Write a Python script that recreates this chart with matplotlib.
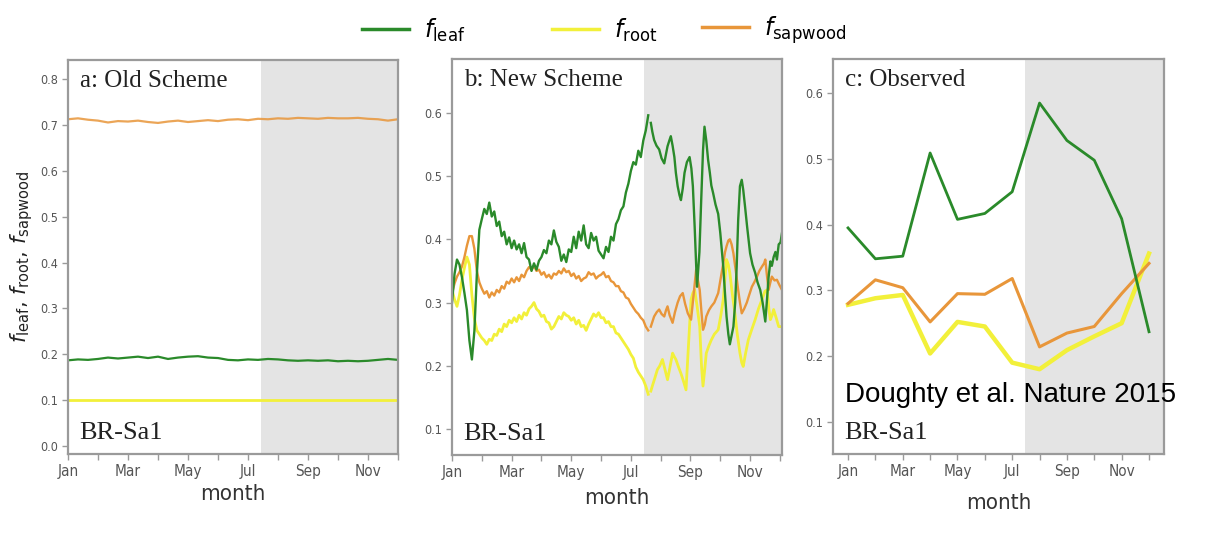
import numpy as np
import matplotlib
matplotlib.use("Agg")
import matplotlib.pyplot as plt
from matplotlib.lines import Line2D
from matplotlib.ticker import FixedLocator, FixedFormatter

# ---------------- data ----------------
MONTH_LABELS = ["Jan", "Mar", "May", "Jul", "Sep", "Nov"]
DRY_START = 6.45  # start of the dry season (mid July), in months

# a: old scheme (roughly constant allocation)
a_x = np.arange(0, 11.01, 1 / 3)
a_sapwood = [0.712, 0.714, 0.711, 0.709, 0.705, 0.708, 0.707, 0.709, 0.706, 0.704,
             0.707, 0.709, 0.706, 0.708, 0.710, 0.708, 0.711, 0.712, 0.710, 0.713,
             0.712, 0.714, 0.713, 0.715, 0.714, 0.713, 0.715, 0.714, 0.714, 0.715,
             0.713, 0.712, 0.709, 0.712]
a_leaf = [0.187, 0.189, 0.188, 0.190, 0.193, 0.191, 0.193, 0.195, 0.192, 0.195,
          0.190, 0.193, 0.195, 0.196, 0.193, 0.192, 0.188, 0.187, 0.189, 0.188,
          0.190, 0.189, 0.187, 0.186, 0.187, 0.186, 0.187, 0.185, 0.186, 0.185,
          0.186, 0.188, 0.190, 0.188]
a_root_x = np.arange(12)
a_root = [0.100, 0.100, 0.100, 0.100, 0.100, 0.100, 0.100, 0.100, 0.100, 0.100, 0.100, 0.100]

# b: new scheme, wet season sampled every 1/12 month ...
b_wet_x = np.arange(80) / 12
b_wet_leaf = [0.300, 0.345, 0.368, 0.360, 0.340, 0.315, 0.288, 0.240, 0.210, 0.255,
              0.345, 0.415, 0.432, 0.448, 0.440, 0.458, 0.436, 0.444, 0.421, 0.428,
              0.405, 0.412, 0.392, 0.403, 0.386, 0.398, 0.384, 0.392, 0.378, 0.394,
              0.372, 0.368, 0.350, 0.362, 0.352, 0.366, 0.372, 0.383, 0.378, 0.398,
              0.392, 0.414, 0.396, 0.388, 0.366, 0.376, 0.364, 0.384, 0.380, 0.404,
              0.386, 0.412, 0.398, 0.422, 0.392, 0.386, 0.410, 0.398, 0.404, 0.382,
              0.376, 0.370, 0.388, 0.380, 0.404, 0.398, 0.424, 0.432, 0.446, 0.452,
              0.474, 0.488, 0.508, 0.522, 0.518, 0.540, 0.530, 0.556, 0.572, 0.596]
b_wet_sapwood = [0.315, 0.330, 0.341, 0.348, 0.357, 0.372, 0.390, 0.405, 0.405, 0.385,
                 0.350, 0.332, 0.322, 0.314, 0.318, 0.308, 0.316, 0.311, 0.320, 0.316,
                 0.326, 0.322, 0.333, 0.330, 0.338, 0.332, 0.340, 0.334, 0.344, 0.340,
                 0.350, 0.356, 0.352, 0.358, 0.350, 0.352, 0.344, 0.348, 0.340, 0.344,
                 0.338, 0.346, 0.344, 0.350, 0.346, 0.354, 0.348, 0.350, 0.342, 0.346,
                 0.338, 0.342, 0.334, 0.338, 0.340, 0.348, 0.344, 0.346, 0.338, 0.342,
                 0.344, 0.348, 0.340, 0.342, 0.334, 0.332, 0.326, 0.326, 0.318, 0.316,
                 0.308, 0.306, 0.298, 0.292, 0.286, 0.282, 0.276, 0.272, 0.262, 0.256]
b_wet_root = [0.320, 0.305, 0.294, 0.312, 0.336, 0.355, 0.372, 0.360, 0.312, 0.275,
              0.256, 0.250, 0.244, 0.240, 0.234, 0.242, 0.240, 0.250, 0.248, 0.258,
              0.254, 0.266, 0.262, 0.272, 0.268, 0.276, 0.270, 0.280, 0.274, 0.284,
              0.280, 0.290, 0.294, 0.300, 0.290, 0.286, 0.278, 0.280, 0.270, 0.268,
              0.258, 0.262, 0.270, 0.278, 0.274, 0.284, 0.280, 0.278, 0.272, 0.276,
              0.266, 0.272, 0.262, 0.264, 0.256, 0.266, 0.274, 0.282, 0.278, 0.284,
              0.276, 0.276, 0.268, 0.270, 0.262, 0.262, 0.252, 0.250, 0.244, 0.238,
              0.232, 0.226, 0.218, 0.212, 0.198, 0.190, 0.184, 0.178, 0.168, 0.155]

# ... and the dry season at irregular points
b_dry_leaf_x = [6.67, 6.72, 6.78, 6.86, 6.95, 7.03, 7.12, 7.18, 7.23, 7.29, 7.34, 7.40,
                7.46, 7.51, 7.57, 7.63, 7.68, 7.74, 7.80, 7.88, 7.97, 8.03, 8.08, 8.14,
                8.19, 8.22, 8.30, 8.36, 8.42, 8.47, 8.53, 8.59, 8.65, 8.70, 8.76, 8.84,
                8.93, 9.00, 9.10, 9.15, 9.21, 9.27, 9.32, 9.38, 9.44, 9.50, 9.55, 9.60,
                9.66, 9.72, 9.77, 9.83, 9.90, 10.00, 10.08, 10.17, 10.25, 10.34, 10.42,
                10.51, 10.56, 10.62, 10.68, 10.73, 10.79, 10.85, 10.90, 10.96, 11.02, 11.07]
b_dry_leaf = [0.584, 0.570, 0.557, 0.548, 0.542, 0.528, 0.520, 0.535, 0.547, 0.556,
              0.563, 0.548, 0.530, 0.505, 0.484, 0.470, 0.462, 0.480, 0.505, 0.522,
              0.530, 0.512, 0.484, 0.420, 0.360, 0.325, 0.380, 0.462, 0.540, 0.578,
              0.556, 0.526, 0.505, 0.485, 0.473, 0.455, 0.440, 0.410, 0.357, 0.320,
              0.278, 0.250, 0.234, 0.248, 0.262, 0.300, 0.357, 0.430, 0.484, 0.494,
              0.478, 0.452, 0.420, 0.378, 0.360, 0.347, 0.332, 0.320, 0.300, 0.270,
              0.300, 0.340, 0.365, 0.358, 0.372, 0.380, 0.368, 0.392, 0.395, 0.410]

b_dry_sapwood_x = [6.67, 6.78, 6.87, 6.95, 7.03, 7.12, 7.18, 7.23, 7.30, 7.40, 7.48,
                   7.57, 7.65, 7.74, 7.82, 7.91, 8.02, 8.10, 8.19, 8.25, 8.31, 8.36,
                   8.42, 8.48, 8.53, 8.62, 8.70, 8.80, 8.93, 9.02, 9.10, 9.16, 9.21,
                   9.27, 9.32, 9.38, 9.44, 9.52, 9.60, 9.66, 9.72, 9.80, 9.89, 9.97,
                   10.06, 10.14, 10.23, 10.31, 10.40, 10.47, 10.51, 10.56, 10.62, 10.68,
                   10.73, 10.82, 10.90, 10.98, 11.07]
b_dry_sapwood = [0.262, 0.278, 0.285, 0.289, 0.282, 0.278, 0.288, 0.294, 0.280, 0.268,
                 0.285, 0.300, 0.310, 0.315, 0.298, 0.283, 0.273, 0.310, 0.352, 0.335,
                 0.320, 0.290, 0.257, 0.265, 0.278, 0.288, 0.294, 0.300, 0.315, 0.340,
                 0.362, 0.380, 0.389, 0.398, 0.400, 0.392, 0.378, 0.350, 0.320, 0.300,
                 0.283, 0.290, 0.300, 0.312, 0.325, 0.332, 0.341, 0.350, 0.357, 0.362,
                 0.368, 0.345, 0.320, 0.332, 0.341, 0.335, 0.336, 0.328, 0.320]

b_dry_root_x = [6.67, 6.72, 6.80, 6.89, 6.97, 7.06, 7.14, 7.23, 7.30, 7.40, 7.45, 7.51,
                7.60, 7.68, 7.77, 7.85, 7.93, 8.02, 8.08, 8.14, 8.22, 8.31, 8.37, 8.42,
                8.48, 8.53, 8.62, 8.70, 8.80, 8.93, 9.02, 9.10, 9.16, 9.21, 9.27, 9.32,
                9.40, 9.49, 9.57, 9.66, 9.72, 9.77, 9.85, 9.94, 10.06, 10.17, 10.28,
                10.40, 10.50, 10.57, 10.63, 10.68, 10.74, 10.79, 10.88, 10.96, 11.07]
b_dry_root = [0.160, 0.168, 0.180, 0.194, 0.200, 0.210, 0.195, 0.178, 0.195, 0.220,
              0.215, 0.210, 0.198, 0.188, 0.175, 0.162, 0.230, 0.305, 0.315, 0.320,
              0.295, 0.262, 0.200, 0.168, 0.195, 0.220, 0.232, 0.241, 0.250, 0.257,
              0.280, 0.305, 0.340, 0.368, 0.360, 0.347, 0.315, 0.283, 0.250, 0.220,
              0.205, 0.199, 0.220, 0.241, 0.258, 0.273, 0.290, 0.305, 0.318, 0.320,
              0.290, 0.273, 0.280, 0.289, 0.275, 0.262, 0.262]

# c: observed monthly values (Doughty et al. 2015)
c_x = np.arange(12)
c_leaf = [0.395, 0.348, 0.352, 0.509, 0.408, 0.417, 0.450, 0.585, 0.528, 0.498, 0.409, 0.237]
c_sapwood = [0.280, 0.316, 0.304, 0.252, 0.295, 0.294, 0.318, 0.214, 0.235, 0.245, 0.295, 0.341]
c_root = [0.278, 0.288, 0.293, 0.204, 0.252, 0.245, 0.190, 0.180, 0.209, 0.230, 0.250, 0.356]

# ---------------- style ----------------
GREEN = "#2a8a2a"
YELLOW = "#f2f03a"
ORANGE = "#e8963a"
SHADE = "#e4e4e4"
SPINE = "#9a9a9a"
TICK_TXT = "#555555"
SERIF = ["Liberation Serif", "DejaVu Serif"]

fig = plt.figure(figsize=(12.23, 5.33), dpi=100)

panels = [
    # rect, xlim, ylim, yticks, title
    ([0.0556, 0.1482, 0.2698, 0.7392], (0, 11), (-0.017, 0.841),
     [0.0, 0.1, 0.2, 0.3, 0.4, 0.5, 0.6, 0.7, 0.8], "a: Old Scheme"),
    ([0.3696, 0.1463, 0.2698, 0.7430], (0, 11.07), (0.059, 0.685),
     [0.1, 0.2, 0.3, 0.4, 0.5, 0.6], "b: New Scheme"),
    ([0.6811, 0.1482, 0.2707, 0.7411], (-0.55, 11.55), (0.051, 0.652),
     [0.1, 0.2, 0.3, 0.4, 0.5, 0.6], "c: Observed"),
]

axes = []
for rect, xlim, ylim, yticks, title in panels:
    ax = fig.add_axes(rect)
    ax.set_xlim(*xlim)
    ax.set_ylim(*ylim)
    ax.axvspan(DRY_START, xlim[1], color=SHADE, zorder=0, lw=0)

    ax.xaxis.set_major_locator(FixedLocator([0, 2, 4, 6, 8, 10]))
    ax.xaxis.set_major_formatter(FixedFormatter(MONTH_LABELS))
    ax.xaxis.set_minor_locator(FixedLocator([1, 3, 5, 7, 9, 11]))
    ax.set_yticks(yticks)
    ax.set_yticklabels([f"{t:.1f}" for t in yticks])
    ax.tick_params(axis="both", which="both", direction="out", length=4,
                   width=1, color=SPINE, labelcolor=TICK_TXT, pad=3)
    for lab in ax.get_xticklabels():
        lab.set_fontsize(11)
        lab.set_fontstretch("condensed")
    for lab in ax.get_yticklabels():
        lab.set_fontsize(9)
        lab.set_fontstretch("condensed")
    for s in ax.spines.values():
        s.set_color(SPINE)
        s.set_linewidth(1.6)

    ax.text(0.035, 0.975, title, transform=ax.transAxes, ha="left", va="top",
            family=SERIF, fontsize=18, color="#222222")
    ax.text(0.035, 0.025, "BR-Sa1", transform=ax.transAxes, ha="left", va="bottom",
            family=SERIF, fontsize=19, color="#222222")
    axes.append(ax)

ax_a, ax_b, ax_c = axes

# panel a
ax_a.plot(a_x, a_sapwood, color=ORANGE, lw=1.6, alpha=0.85)
ax_a.plot(a_x, a_leaf, color=GREEN, lw=1.6)
ax_a.plot(a_root_x, a_root, color=YELLOW, lw=2.0)
ax_a.set_ylabel(r"$f_{\mathrm{leaf}}$, $f_{\mathrm{root}}$, $f_{\mathrm{sapwood}}$",
                fontsize=15, color="#222222", labelpad=4)

# panel b
ax_b.plot(b_wet_x, b_wet_root, color=YELLOW, lw=2.0)
ax_b.plot(b_dry_root_x, b_dry_root, color=YELLOW, lw=2.0)
ax_b.plot(b_wet_x, b_wet_sapwood, color=ORANGE, lw=1.7)
ax_b.plot(b_dry_sapwood_x, b_dry_sapwood, color=ORANGE, lw=1.7)
ax_b.plot(b_wet_x, b_wet_leaf, color=GREEN, lw=1.7)
ax_b.plot(b_dry_leaf_x, b_dry_leaf, color=GREEN, lw=1.7)

# panel c
ax_c.plot(c_x, c_root, color=YELLOW, lw=3.2)
ax_c.plot(c_x, c_sapwood, color=ORANGE, lw=2.2)
ax_c.plot(c_x, c_leaf, color=GREEN, lw=2.0)
ax_c.text(845 / 1223, 1 - 395 / 533, "Doughty et al. Nature 2015",
          transform=fig.transFigure, ha="left", va="center",
          family=["Liberation Sans", "DejaVu Sans"], fontsize=20, color="black")

for ax, pad in [(ax_a, 4), (ax_b, 6), (ax_c, 10)]:
    ax.set_xlabel("month", fontsize=16, fontstretch="condensed",
                  color="#333333", labelpad=pad)

# legend across the top
entries = [(GREEN, r"$f_{\mathrm{leaf}}$", 372),
           (YELLOW, r"$f_{\mathrm{root}}$", 562),
           (ORANGE, r"$f_{\mathrm{sapwood}}$", 712)]
for color, label, xpix in entries:
    fig.legend(handles=[Line2D([], [], color=color, lw=2.5)], labels=[label],
               loc="center left", bbox_to_anchor=(xpix / 1223 - 0.008, 1 - 30 / 533),
               frameon=False, fontsize=17, handlelength=2.0, handletextpad=0.6,
               borderaxespad=0, borderpad=0)

fig.savefig("out.png", dpi=100)
